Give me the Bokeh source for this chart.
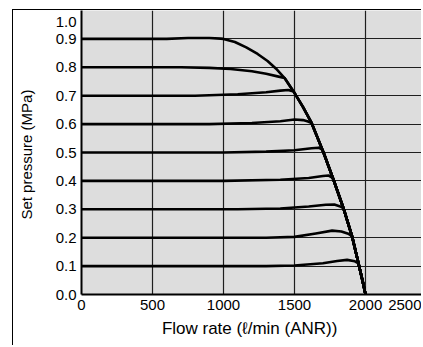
from bokeh.plotting import figure
from bokeh.models import Range1d, FixedTicker, PrintfTickFormatter
from bokeh.embed import file_html
from bokeh.resources import INLINE

# ---- data ----
X_TICKS = [0, 500, 1000, 1500, 2000, 2500]
Y_TICKS = [0.0, 0.1, 0.2, 0.3, 0.4, 0.5, 0.6, 0.7, 0.8, 0.9, 1.0]
X_TICK_LABELS = ["0", "500", "1000", "1500", "2000", "2500"]
Y_TICK_LABELS = ["0.0", "0.1", "0.2", "0.3", "0.4", "0.5", "0.6", "0.7", "0.8", "0.9", "1.0"]
# the last label of each axis is squeezed inwards in the reference
X_LAST_LABEL_AT = 2338
Y_LAST_LABEL_AT = 0.958

X_TITLE = "Flow rate  (\u2113/min (ANR))"
Y_TITLE = "Set pressure  (MPa)"

# common falling envelope (flow rate, set pressure)
ENV_X = [1000, 1080, 1160, 1240, 1310, 1370, 1430, 1493, 1560, 1620, 1704, 1775, 1845, 1905, 1950, 1978, 2000]
ENV_Y = [0.900, 0.889, 0.870, 0.847, 0.822, 0.795, 0.762, 0.715, 0.660, 0.604, 0.500, 0.403, 0.303, 0.205, 0.110, 0.050, 0.0]

# part of each set-pressure curve before it joins the envelope
P09_X = [0, 600, 750, 900, 980]
P09_Y = [0.900, 0.900, 0.903, 0.903, 0.901]
P08_X = [0, 700, 900, 1050, 1200, 1300, 1380]
P08_Y = [0.800, 0.800, 0.798, 0.794, 0.786, 0.777, 0.768]
P07_X = [0, 800, 1100, 1300, 1400, 1455, 1480]
P07_Y = [0.700, 0.700, 0.705, 0.712, 0.718, 0.720, 0.717]
P06_X = [0, 900, 1200, 1400, 1500, 1560, 1595]
P06_Y = [0.600, 0.600, 0.604, 0.610, 0.616, 0.614, 0.609]
P05_X = [0, 1000, 1300, 1500, 1620, 1670, 1695]
P05_Y = [0.500, 0.500, 0.503, 0.508, 0.515, 0.517, 0.510]
P04_X = [0, 1000, 1400, 1600, 1700, 1740, 1765]
P04_Y = [0.400, 0.400, 0.404, 0.410, 0.417, 0.419, 0.412]
P03_X = [0, 1100, 1400, 1600, 1720, 1780, 1822]
P03_Y = [0.300, 0.300, 0.303, 0.310, 0.316, 0.317, 0.310]
P02_X = [0, 1300, 1500, 1650, 1765, 1830, 1878]
P02_Y = [0.200, 0.200, 0.203, 0.215, 0.225, 0.222, 0.214]
P01_X = [0, 1300, 1500, 1700, 1800, 1870, 1925]
P01_Y = [0.100, 0.100, 0.102, 0.110, 0.118, 0.122, 0.117]

CURVES = [(P09_X, P09_Y), (P08_X, P08_Y), (P07_X, P07_Y), (P06_X, P06_Y), (P05_X, P05_Y),
          (P04_X, P04_Y), (P03_X, P03_Y), (P02_X, P02_Y), (P01_X, P01_Y)]

FONT = "Liberation Sans"

p = figure(width=409, height=336, output_backend="svg", toolbar_location=None,
           x_range=Range1d(0, 2401), y_range=Range1d(0, 1.0),
           min_border_left=68, min_border_top=0, min_border_right=0, min_border_bottom=52,
           styles={"margin-left": "11.5px", "margin-top": "9px",
                   "border-left": "1.5px solid black", "border-top": "1.5px solid black"})

p.background_fill_color = "#dddddd"
p.border_fill_color = "white"
p.outline_line_color = None

x_label_pos = X_TICKS[:-1] + [X_LAST_LABEL_AT]
y_label_pos = Y_TICKS[:-1] + [Y_LAST_LABEL_AT]
p.xaxis.ticker = FixedTicker(ticks=x_label_pos)
p.yaxis.ticker = FixedTicker(ticks=y_label_pos)
p.xaxis.major_label_overrides = dict(zip(x_label_pos, X_TICK_LABELS))
p.yaxis.major_label_overrides = dict(zip(y_label_pos, Y_TICK_LABELS))
p.yaxis.formatter = PrintfTickFormatter(format="%.1f")
p.xgrid.ticker = FixedTicker(ticks=X_TICKS)
p.ygrid.ticker = FixedTicker(ticks=Y_TICKS)

for ax in (p.xaxis, p.yaxis):
    ax.axis_line_color = "black"
    ax.axis_line_width = 2
    ax.major_tick_in = 0
    ax.major_tick_out = 0
    ax.minor_tick_in = 0
    ax.minor_tick_out = 0
    ax.major_label_text_font = FONT
    ax.major_label_text_font_size = "15px"
    ax.major_label_text_color = "black"
    ax.axis_label_text_font = FONT
    ax.axis_label_text_font_style = "normal"
    ax.axis_label_text_color = "black"

p.xaxis.axis_label = X_TITLE
p.yaxis.axis_label = Y_TITLE
p.xaxis.axis_label_text_font_size = "17px"
p.yaxis.axis_label_text_font_size = "15px"
p.xaxis.major_label_standoff = 5
p.yaxis.major_label_standoff = 5
p.xaxis.axis_label_standoff = 6
p.yaxis.axis_label_standoff = 18

p.grid.grid_line_color = "#1e1e1e"
p.grid.grid_line_width = 1.2
p.grid.grid_line_alpha = 1.0

for cx, cy in CURVES:
    xs = list(cx) + [x for x in ENV_X if x > cx[-1]]
    ys = list(cy) + [y for x, y in zip(ENV_X, ENV_Y) if x > cx[-1]]
    p.line(xs, ys, line_color="black", line_width=2.6, line_join="round", line_cap="round")

open("out.html", "w").write(file_html(p, INLINE))
